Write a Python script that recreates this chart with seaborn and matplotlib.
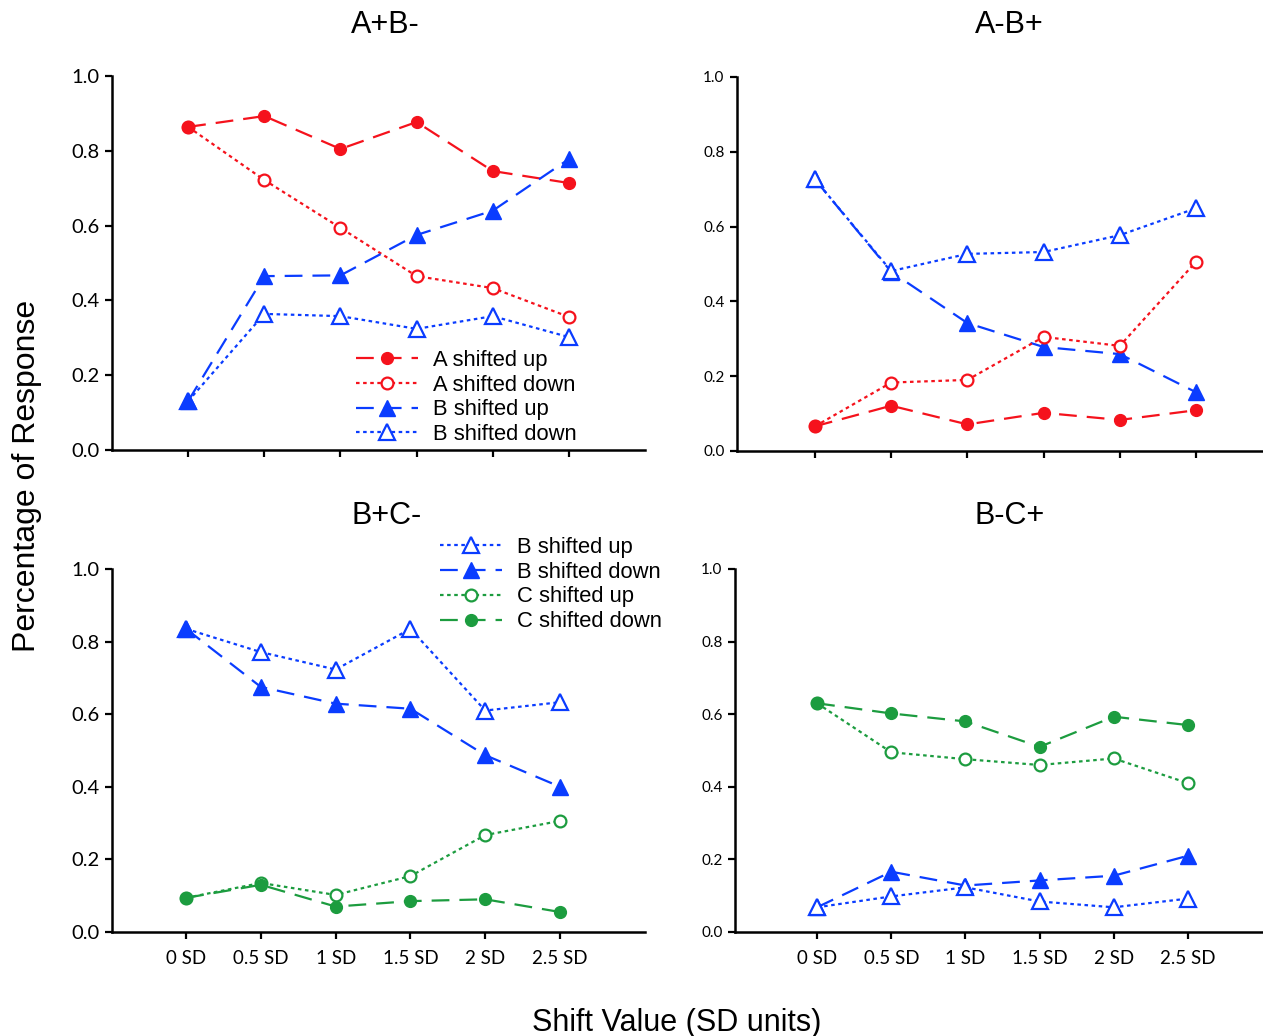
import matplotlib
matplotlib.use("Agg")
import matplotlib.pyplot as plt
import seaborn as sns
import pandas as pd

# datos
shift = [0, 0.5, 1, 1.5, 2, 2.5]
etiquetas_x = ["0 SD", "0.5 SD", "1 SD", "1.5 SD", "2 SD", "2.5 SD"]

# panel A+B-
ab_a_up = [0.864, 0.893, 0.805, 0.877, 0.746, 0.714]
ab_a_down = [0.864, 0.722, 0.594, 0.465, 0.433, 0.356]
ab_b_up = [0.131, 0.465, 0.467, 0.575, 0.640, 0.778]
ab_b_down = [0.131, 0.364, 0.358, 0.324, 0.358, 0.302]

# panel A-B+
ba_a_up = [0.066, 0.121, 0.071, 0.102, 0.083, 0.109]
ba_a_down = [0.066, 0.183, 0.190, 0.305, 0.281, 0.506]
ba_b_up = [0.726, 0.479, 0.342, 0.278, 0.259, 0.157]
ba_b_down = [0.726, 0.481, 0.527, 0.532, 0.577, 0.649]

# panel B+C-
bc_b_up = [0.835, 0.771, 0.723, 0.835, 0.610, 0.633]
bc_b_down = [0.835, 0.675, 0.629, 0.615, 0.487, 0.400]
bc_c_up = [0.094, 0.135, 0.102, 0.154, 0.267, 0.306]
bc_c_down = [0.094, 0.130, 0.070, 0.085, 0.090, 0.055]

# panel B-C+
cb_c_down = [0.630, 0.602, 0.580, 0.510, 0.593, 0.570]
cb_c_up = [0.630, 0.495, 0.476, 0.460, 0.478, 0.410]
cb_b_down = [0.068, 0.166, 0.128, 0.142, 0.155, 0.210]
cb_b_up = [0.068, 0.098, 0.123, 0.084, 0.068, 0.092]

ROJO = "#f5121c"
AZUL = "#0a3cff"
VERDE = "#1c9c3f"
GUION = (0, (8, 4.5))
PUNTO = (0, (1.6, 1.6))

sns.set_style("ticks", {"axes.edgecolor": "black", "xtick.color": "black",
                        "ytick.color": "black", "text.color": "black"})
plt.rcParams["font.family"] = ["Liberation Sans", "DejaVu Sans"]


def serie(ax, y, color, marcador, lleno, estilo, etiqueta=None):
    df = pd.DataFrame({"shift": shift, "valor": y})
    ms = 8.5 if marcador == "o" else 11
    sns.lineplot(data=df, x="shift", y="valor", ax=ax, color=color,
                 marker=marcador, ms=ms, mfc=color if lleno else "white",
                 mec=color, mew=1.6 if not lleno else 1.0, lw=1.6,
                 linestyle=estilo, label=etiqueta, errorbar=None)


def ejes(ax, xlim, tam_y, etiquetas):
    ax.set_xlim(*xlim)
    ax.set_ylim(0, 1.0)
    ax.set_xticks(shift)
    ax.set_xticklabels(etiquetas_x if etiquetas else [])
    ax.set_yticks([0, 0.2, 0.4, 0.6, 0.8, 1.0])
    ax.set_yticklabels(["0.0", "0.2", "0.4", "0.6", "0.8", "1.0"])
    for lab in ax.get_yticklabels():
        lab.set_fontfamily("Lato")
        lab.set_fontsize(tam_y)
    for lab in ax.get_xticklabels():
        lab.set_fontfamily("Lato")
        lab.set_fontsize(13.5)
    ax.tick_params(direction="out", length=5, width=1.6, pad=4, colors="black")
    ax.tick_params(axis="x", pad=8)
    for s in ["left", "bottom"]:
        ax.spines[s].set_linewidth(1.8)
        ax.spines[s].set_color("black")
    sns.despine(ax=ax)
    ax.set_xlabel("")
    ax.set_ylabel("")


def leyenda(ax, orden, bbox):
    h, l = ax.get_legend_handles_labels()
    d = dict(zip(l, h))
    ax.legend([d[k] for k in orden], orden, loc="upper left",
              bbox_to_anchor=bbox, frameon=False, fontsize=15.8,
              handlelength=2.8, handletextpad=0.7, labelspacing=0.17,
              borderpad=0, borderaxespad=0)


fig = plt.figure(figsize=(12.63, 10.36), dpi=100)
ax1 = fig.add_axes([0.0887, 0.5656, 0.422, 0.361])
ax2 = fig.add_axes([0.5835, 0.5647, 0.422, 0.361])
ax3 = fig.add_axes([0.0887, 0.1004, 0.422, 0.3504])
ax4 = fig.add_axes([0.5820, 0.1004, 0.422, 0.3504])

# orden de dibujo: el ultimo queda encima en los puntos compartidos
serie(ax1, ab_a_down, ROJO, "o", False, PUNTO, "A shifted down")
serie(ax1, ab_a_up, ROJO, "o", True, GUION, "A shifted up")
serie(ax1, ab_b_down, AZUL, "^", False, PUNTO, "B shifted down")
serie(ax1, ab_b_up, AZUL, "^", True, GUION, "B shifted up")

serie(ax2, ba_b_up, AZUL, "^", True, GUION)
serie(ax2, ba_b_down, AZUL, "^", False, PUNTO)
serie(ax2, ba_a_down, ROJO, "o", False, PUNTO)
serie(ax2, ba_a_up, ROJO, "o", True, GUION)

serie(ax3, bc_b_up, AZUL, "^", False, PUNTO, "B shifted up")
serie(ax3, bc_b_down, AZUL, "^", True, GUION, "B shifted down")
serie(ax3, bc_c_up, VERDE, "o", False, PUNTO, "C shifted up")
serie(ax3, bc_c_down, VERDE, "o", True, GUION, "C shifted down")

serie(ax4, cb_c_up, VERDE, "o", False, PUNTO)
serie(ax4, cb_c_down, VERDE, "o", True, GUION)
serie(ax4, cb_b_down, AZUL, "^", True, GUION)
serie(ax4, cb_b_up, AZUL, "^", False, PUNTO)

ejes(ax1, (-0.5, 3.0), 14.5, False)
ejes(ax2, (-0.512, 2.985), 11, False)
ejes(ax3, (-0.495, 3.068), 14.5, True)
ejes(ax4, (-0.553, 3.04), 11, True)

leyenda(ax1, ["A shifted up", "A shifted down", "B shifted up", "B shifted down"],
        (0.458, 0.268))
leyenda(ax3, ["B shifted up", "B shifted down", "C shifted up", "C shifted down"],
        (0.616, 1.088))

fig.text(0.305, 0.976, "A+B-", ha="center", va="center", fontsize=22)
fig.text(0.799, 0.976, "A-B+", ha="center", va="center", fontsize=22)
fig.text(0.306, 0.502, "B+C-", ha="center", va="center", fontsize=22)
fig.text(0.799, 0.502, "B-C+", ha="center", va="center", fontsize=22)
fig.text(0.021, 0.541, "Percentage of Response", rotation=90,
         ha="center", va="center", fontsize=23)
fig.text(0.536, 0.013, "Shift Value (SD units)", ha="center", va="center",
         fontsize=22)

fig.savefig("out.png", dpi=100)
